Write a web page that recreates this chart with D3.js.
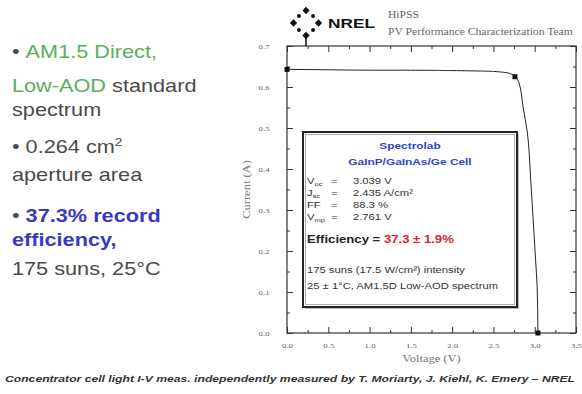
<!DOCTYPE html>
<html>
<head>
<meta charset="utf-8">
<script src="https://cdn.jsdelivr.net/npm/d3@7"></script>
<style>
  body { margin: 0; background: #fff; }
  svg { display: block; }
</style>
</head>
<body>
<div id="chart"></div>
<script>
// I-V curve
const voltage = [0, 0.5, 1.0, 1.5, 2.0, 2.5, 2.7, 2.761, 2.81, 2.86, 2.91, 2.95, 2.98, 3.01, 3.03, 3.039];
const current = [0.643, 0.642, 0.641, 0.641, 0.640, 0.638, 0.633, 0.625, 0.61, 0.55, 0.49, 0.38, 0.28, 0.18, 0.11, 0.0];
// marked points: Isc, max power, Voc
const markV = [0, 2.761, 3.039];
const markI = [0.643, 0.625, 0.0];

const xTicks = [0, 0.5, 1.0, 1.5, 2.0, 2.5, 3.0, 3.5];
const xMinor = [0.25, 0.75, 1.25, 1.75, 2.25, 2.75, 3.25];
const yTicks = [0, 0.1, 0.2, 0.3, 0.4, 0.5, 0.6, 0.7];
const yMinor = [0.05, 0.15, 0.25, 0.35, 0.45, 0.55, 0.65];

const W = 582, H = 394;
const SX = 1.25; // the slide text is stretched sideways
const svg = d3.select('#chart').append('svg')
  .attr('width', W).attr('height', H);

const x = d3.scaleLinear().domain([0, 3.5]).range([287, 576]);
const y = d3.scaleLinear().domain([0, 0.7]).range([333, 46]);

const serif = '"Liberation Serif", "DejaVu Serif", serif';
const sans = '"Liberation Sans", Arial, sans-serif';

// widen text around its own x anchor
function stretch(sel, sx = SX) {
  sel.each(function () {
    const t = d3.select(this);
    const x0 = +t.attr('x') || 0;
    t.attr('transform', `translate(${x0},0) scale(${sx},1) translate(${-x0},0)`);
  });
  return sel;
}

// frame
svg.append('rect')
  .attr('x', x(0)).attr('y', y(0.7))
  .attr('width', x(3.5) - x(0)).attr('height', y(0) - y(0.7))
  .attr('fill', 'none').attr('stroke', '#333').attr('stroke-width', 1.2);

function styleAxis(g) {
  g.select('.domain').remove();
  g.selectAll('line').attr('stroke', '#333');
  g.selectAll('text').attr('font-family', serif).attr('font-size', 7).attr('fill', '#666')
    .attr('transform', `scale(${SX},1)`);
}

// bottom + left with labels, ticks pointing inward
svg.append('g').attr('transform', `translate(0,${y(0)})`)
  .call(d3.axisBottom(x).tickValues(xTicks).tickSizeInner(-6).tickPadding(10).tickFormat(d3.format('.1f')))
  .call(styleAxis);
svg.append('g').attr('transform', `translate(0,${y(0)})`)
  .call(d3.axisBottom(x).tickValues(xMinor).tickSizeInner(-3).tickFormat(''))
  .call(styleAxis);
svg.append('g').attr('transform', `translate(${x(0)},0)`)
  .call(d3.axisLeft(y).tickValues(yTicks).tickSizeInner(-6).tickPadding(14).tickFormat(d3.format('.1f')))
  .call(styleAxis);
svg.append('g').attr('transform', `translate(${x(0)},0)`)
  .call(d3.axisLeft(y).tickValues(yMinor).tickSizeInner(-3).tickFormat(''))
  .call(styleAxis);
// top + right, ticks only
svg.append('g').attr('transform', `translate(0,${y(0.7)})`)
  .call(d3.axisTop(x).tickValues(xTicks).tickSizeInner(-6).tickFormat(''))
  .call(styleAxis);
svg.append('g').attr('transform', `translate(0,${y(0.7)})`)
  .call(d3.axisTop(x).tickValues(xMinor).tickSizeInner(-3).tickFormat(''))
  .call(styleAxis);
svg.append('g').attr('transform', `translate(${x(3.5)},0)`)
  .call(d3.axisRight(y).tickValues(yTicks).tickSizeInner(-6).tickFormat(''))
  .call(styleAxis);
svg.append('g').attr('transform', `translate(${x(3.5)},0)`)
  .call(d3.axisRight(y).tickValues(yMinor).tickSizeInner(-3).tickFormat(''))
  .call(styleAxis);

// axis titles
stretch(svg.append('text')
  .attr('x', (x(0) + x(3.5)) / 2).attr('y', 362)
  .attr('text-anchor', 'middle').attr('font-family', serif).attr('font-size', 10).attr('fill', '#777')
  .text('Voltage (V)'));
svg.append('text')
  .attr('transform', `translate(250,${(y(0) + y(0.7)) / 2}) rotate(-90) scale(${SX},1)`)
  .attr('text-anchor', 'middle').attr('font-family', serif).attr('font-size', 10).attr('fill', '#777')
  .text('Current (A)');

// curve
const pts = voltage.map((v, i) => [v, current[i]]);
svg.append('path')
  .datum(pts)
  .attr('fill', 'none').attr('stroke', '#222').attr('stroke-width', 1)
  .attr('d', d3.line().x(d => x(d[0])).y(d => y(d[1])).curve(d3.curveMonotoneY));

svg.selectAll('rect.mark')
  .data(markV.map((v, i) => [v, markI[i]]))
  .enter().append('rect')
  .attr('class', 'mark')
  .attr('x', d => x(d[0]) - 2.5).attr('y', d => y(d[1]) - 2.5)
  .attr('width', 5).attr('height', 5).attr('fill', '#111');

// inset box
const bx = 303, by = 132, bw = 214, bh = 175;
svg.append('rect').attr('x', bx + 2).attr('y', by + 2).attr('width', bw).attr('height', bh)
  .attr('fill', '#bbb');
svg.append('rect').attr('x', bx).attr('y', by).attr('width', bw).attr('height', bh)
  .attr('fill', '#fff').attr('stroke', '#222').attr('stroke-width', 2);
svg.append('rect').attr('x', bx + 2.5).attr('y', by + 2.5).attr('width', bw - 5).attr('height', bh - 5)
  .attr('fill', 'none').attr('stroke', '#999').attr('stroke-width', 0.8);

const inset = svg.append('g').attr('font-family', sans).attr('font-size', 9).attr('fill', '#333');
const cx = bx + bw / 2;
stretch(inset.append('text').attr('x', cx).attr('y', 149).attr('text-anchor', 'middle')
  .attr('font-weight', 'bold').attr('font-size', 9.5).attr('fill', '#3344cc').text('Spectrolab'));
stretch(inset.append('text').attr('x', cx).attr('y', 165).attr('text-anchor', 'middle')
  .attr('font-weight', 'bold').attr('font-size', 9.5).attr('fill', '#3344cc').text('GaInP/GaInAs/Ge Cell'));

const params = [
  ['V', 'oc', '3.039 V'],
  ['J', 'sc', '2.435 A/cm²'],
  ['FF', '', '88.3 %'],
  ['V', 'mp', '2.761 V']
];
params.forEach((p, i) => {
  const yy = 184 + i * 12;
  const t = inset.append('text').attr('x', 307).attr('y', yy);
  t.append('tspan').text(p[0]);
  if (p[1]) t.append('tspan').attr('font-size', 6).attr('dy', 2).text(p[1]);
  stretch(t);
  stretch(inset.append('text').attr('x', 331).attr('y', yy).text('='));
  stretch(inset.append('text').attr('x', 353).attr('y', yy).text(p[2]));
});
const eff = inset.append('text').attr('x', 307).attr('y', 243).attr('font-weight', 'bold').attr('font-size', 10.5);
eff.append('tspan').attr('fill', '#222').text('Efficiency = ');
eff.append('tspan').attr('fill', '#e0202a').text('37.3 ± 1.9%');
stretch(eff);
stretch(inset.append('text').attr('x', 307).attr('y', 273).text('175 suns (17.5 W/cm²) intensity'));
stretch(inset.append('text').attr('x', 307).attr('y', 289).text('25 ± 1°C, AM1.5D Low-AOD spectrum'));

// header: NREL logo and team name
const logo = svg.append('g').attr('transform', 'translate(306,23)');
d3.range(8).forEach(k => {
  const a = k * Math.PI / 4;
  const cardinal = k % 2 === 0;
  const r = cardinal ? 12.5 : 10;
  const px = r * Math.cos(a), py = r * Math.sin(a);
  if (cardinal) {
    logo.append('rect')
      .attr('x', px - 2.6).attr('y', py - 2.6).attr('width', 5.2).attr('height', 5.2)
      .attr('transform', `rotate(45,${px},${py})`).attr('fill', '#111');
  } else {
    logo.append('circle').attr('cx', px).attr('cy', py).attr('r', 2).attr('fill', '#111');
  }
});
logo.append('line').attr('x1', 0).attr('x2', 0).attr('y1', 15).attr('y2', 23).attr('stroke', '#111').attr('stroke-width', 1.5);
svg.append('text').attr('x', 328).attr('y', 28).attr('font-family', sans).attr('font-weight', 'bold')
  .attr('font-size', 12).attr('fill', '#111').attr('textLength', 47).attr('lengthAdjust', 'spacingAndGlyphs')
  .text('NREL');
stretch(svg.append('text').attr('x', 388).attr('y', 18).attr('font-family', serif).attr('font-size', 9.3)
  .attr('fill', '#666').text('HiPSS'));
stretch(svg.append('text').attr('x', 388).attr('y', 35).attr('font-family', serif).attr('font-size', 9.3)
  .attr('fill', '#666').text('PV Performance Characterization Team'));

// left bullet text
const green = '#5aae5a', blue = '#3838c8';
const left = svg.append('g').attr('font-family', sans).attr('font-size', 17.5).attr('fill', '#4a4a4a');
let t = left.append('text').attr('x', 12).attr('y', 58);
t.append('tspan').text('• ');
t.append('tspan').attr('fill', green).text('AM1.5 Direct,');
t = left.append('text').attr('x', 12).attr('y', 92);
t.append('tspan').attr('fill', green).text('Low-AOD');
t.append('tspan').text(' standard');
left.append('text').attr('x', 12).attr('y', 116).text('spectrum');
t = left.append('text').attr('x', 12).attr('y', 153);
t.append('tspan').text('• 0.264 cm');
t.append('tspan').attr('font-size', 11).attr('dy', -7).text('2');
left.append('text').attr('x', 12).attr('y', 181).text('aperture area');
t = left.append('text').attr('x', 12).attr('y', 222);
t.append('tspan').text('• ');
t.append('tspan').attr('fill', blue).attr('font-weight', 'bold').text('37.3% record');
left.append('text').attr('x', 12).attr('y', 246).attr('fill', blue).attr('font-weight', 'bold').text('efficiency,');
left.append('text').attr('x', 12).attr('y', 275).text('175 suns, 25°C');
stretch(left.selectAll('text'), 1.24);

// footer
svg.append('text').attr('x', 5).attr('y', 382)
  .attr('font-family', sans).attr('font-size', 9).attr('font-weight', 'bold').attr('font-style', 'italic')
  .attr('fill', '#333').attr('textLength', 570).attr('lengthAdjust', 'spacingAndGlyphs')
  .text('Concentrator cell light I-V meas. independently measured by T. Moriarty, J. Kiehl, K. Emery – NREL');
</script>
</body>
</html>
